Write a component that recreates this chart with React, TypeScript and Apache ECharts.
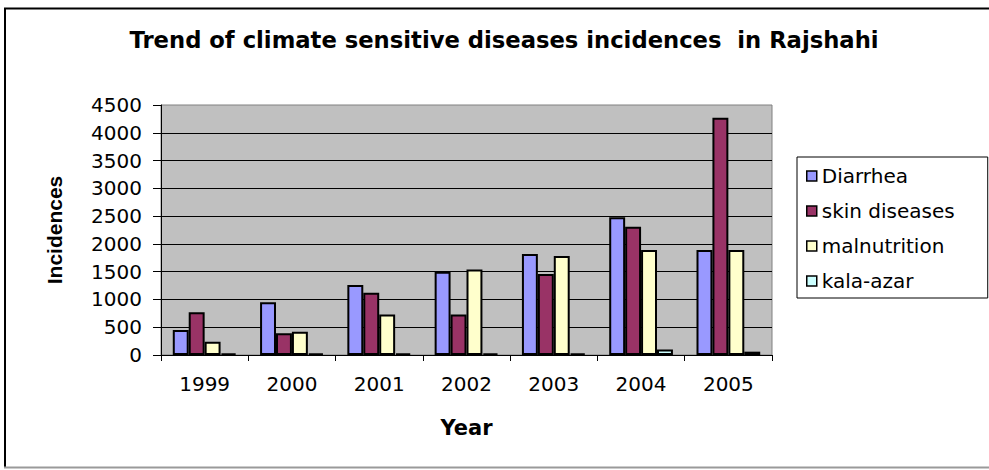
import React, { useEffect, useRef } from "react";
import * as echarts from "echarts";

const categories = ["1999", "2000", "2001", "2002", "2003", "2004", "2005"];
const diarrhea = [450, 950, 1260, 1500, 1820, 2480, 1890];
const skinDiseases = [770, 390, 1120, 730, 1460, 2310, 4270];
const malnutrition = [240, 420, 730, 1540, 1780, 1890, 1890];
const kalaAzar = [30, 30, 30, 30, 30, 100, 60];

const seriesNames = ["Diarrhea", "skin diseases", "malnutrition", "kala-azar"];
const seriesColors = ["#9999FF", "#993366", "#FFFFCC", "#CCFFFF"];
const seriesData = [diarrhea, skinDiseases, malnutrition, kalaAzar];

export default function App() {
  const ref = useRef<HTMLDivElement>(null);

  useEffect(() => {
    if (!ref.current) return;
    const chart = echarts.init(ref.current, null, { renderer: "svg" });
    chart.setOption({
      animation: false,
      backgroundColor: "#ffffff",
      title: {
        text: "Trend of climate sensitive diseases incidences  in Rajshahi",
        left: 499,
        top: 23,
        textAlign: "center",
        textStyle: {
          fontFamily: "DejaVu Sans",
          fontWeight: "bold",
          fontSize: 22.7,
          color: "#000",
        },
      },
      graphic: [
        { type: "line", shape: { x1: 4, y1: 8.5, x2: 989, y2: 8.5 }, style: { stroke: "#000", lineWidth: 2 } },
        { type: "line", shape: { x1: 5, y1: 8, x2: 5, y2: 468 }, style: { stroke: "#000", lineWidth: 2 } },
        { type: "line", shape: { x1: 4, y1: 467.5, x2: 989, y2: 467.5 }, style: { stroke: "#9a9a9a", lineWidth: 2 } },
      ],
      legend: {
        orient: "vertical",
        left: 797,
        top: 157,
        padding: [9, 33, 7, 9],
        itemGap: 15,
        itemWidth: 10,
        itemHeight: 10,
        icon: "rect",
        backgroundColor: "#fff",
        borderColor: "#000",
        borderWidth: 1,
        borderRadius: 0,
        itemStyle: { borderColor: "#000", borderWidth: 1.5 },
        textStyle: { fontFamily: "DejaVu Sans", fontSize: 20, color: "#000" },
        data: seriesNames,
      },
      grid: {
        left: 161,
        top: 105,
        width: 611,
        height: 250,
        show: true,
        backgroundColor: "#C0C0C0",
        borderColor: "#808080",
        borderWidth: 1,
        containLabel: false,
      },
      xAxis: {
        type: "category",
        data: categories,
        name: "Year",
        nameLocation: "middle",
        nameGap: 62,
        nameTextStyle: { fontFamily: "DejaVu Sans", fontWeight: "bold", fontSize: 21, color: "#000" },
        axisLine: { show: true, lineStyle: { color: "#000", width: 1 } },
        axisTick: { show: true, length: 6, lineStyle: { color: "#000" } },
        axisLabel: { fontFamily: "DejaVu Sans", fontSize: 20, color: "#000", margin: 19 },
        splitLine: { show: false },
      },
      yAxis: {
        type: "value",
        min: 0,
        max: 4500,
        interval: 500,
        name: "Incidences",
        nameLocation: "middle",
        nameGap: 96,
        nameTextStyle: { fontFamily: "Liberation Sans", fontWeight: "bold", fontSize: 21, color: "#000" },
        axisLine: { show: true, lineStyle: { color: "#000", width: 1 } },
        axisTick: { show: true, length: 8, lineStyle: { color: "#000" } },
        axisLabel: {
          fontFamily: "DejaVu Sans",
          fontSize: 20,
          color: "#000",
          margin: 19,
          formatter: (v: number) => String(v),
        },
        splitLine: { show: true, showMaxLine: false, lineStyle: { color: "#000", width: 1 } },
      },
      series: seriesNames.map((name, i) => ({
        name,
        type: "bar",
        data: seriesData[i],
        barGap: "0%",
        barCategoryGap: "27%",
        itemStyle: { color: seriesColors[i], borderColor: "#000", borderWidth: 2 },
      })),
    });
    return () => chart.dispose();
  }, []);

  return (
    <div
      ref={ref}
      style={{ position: "absolute", left: 0, top: 0, width: 989, height: 470, background: "#fff" }}
    />
  );
}
